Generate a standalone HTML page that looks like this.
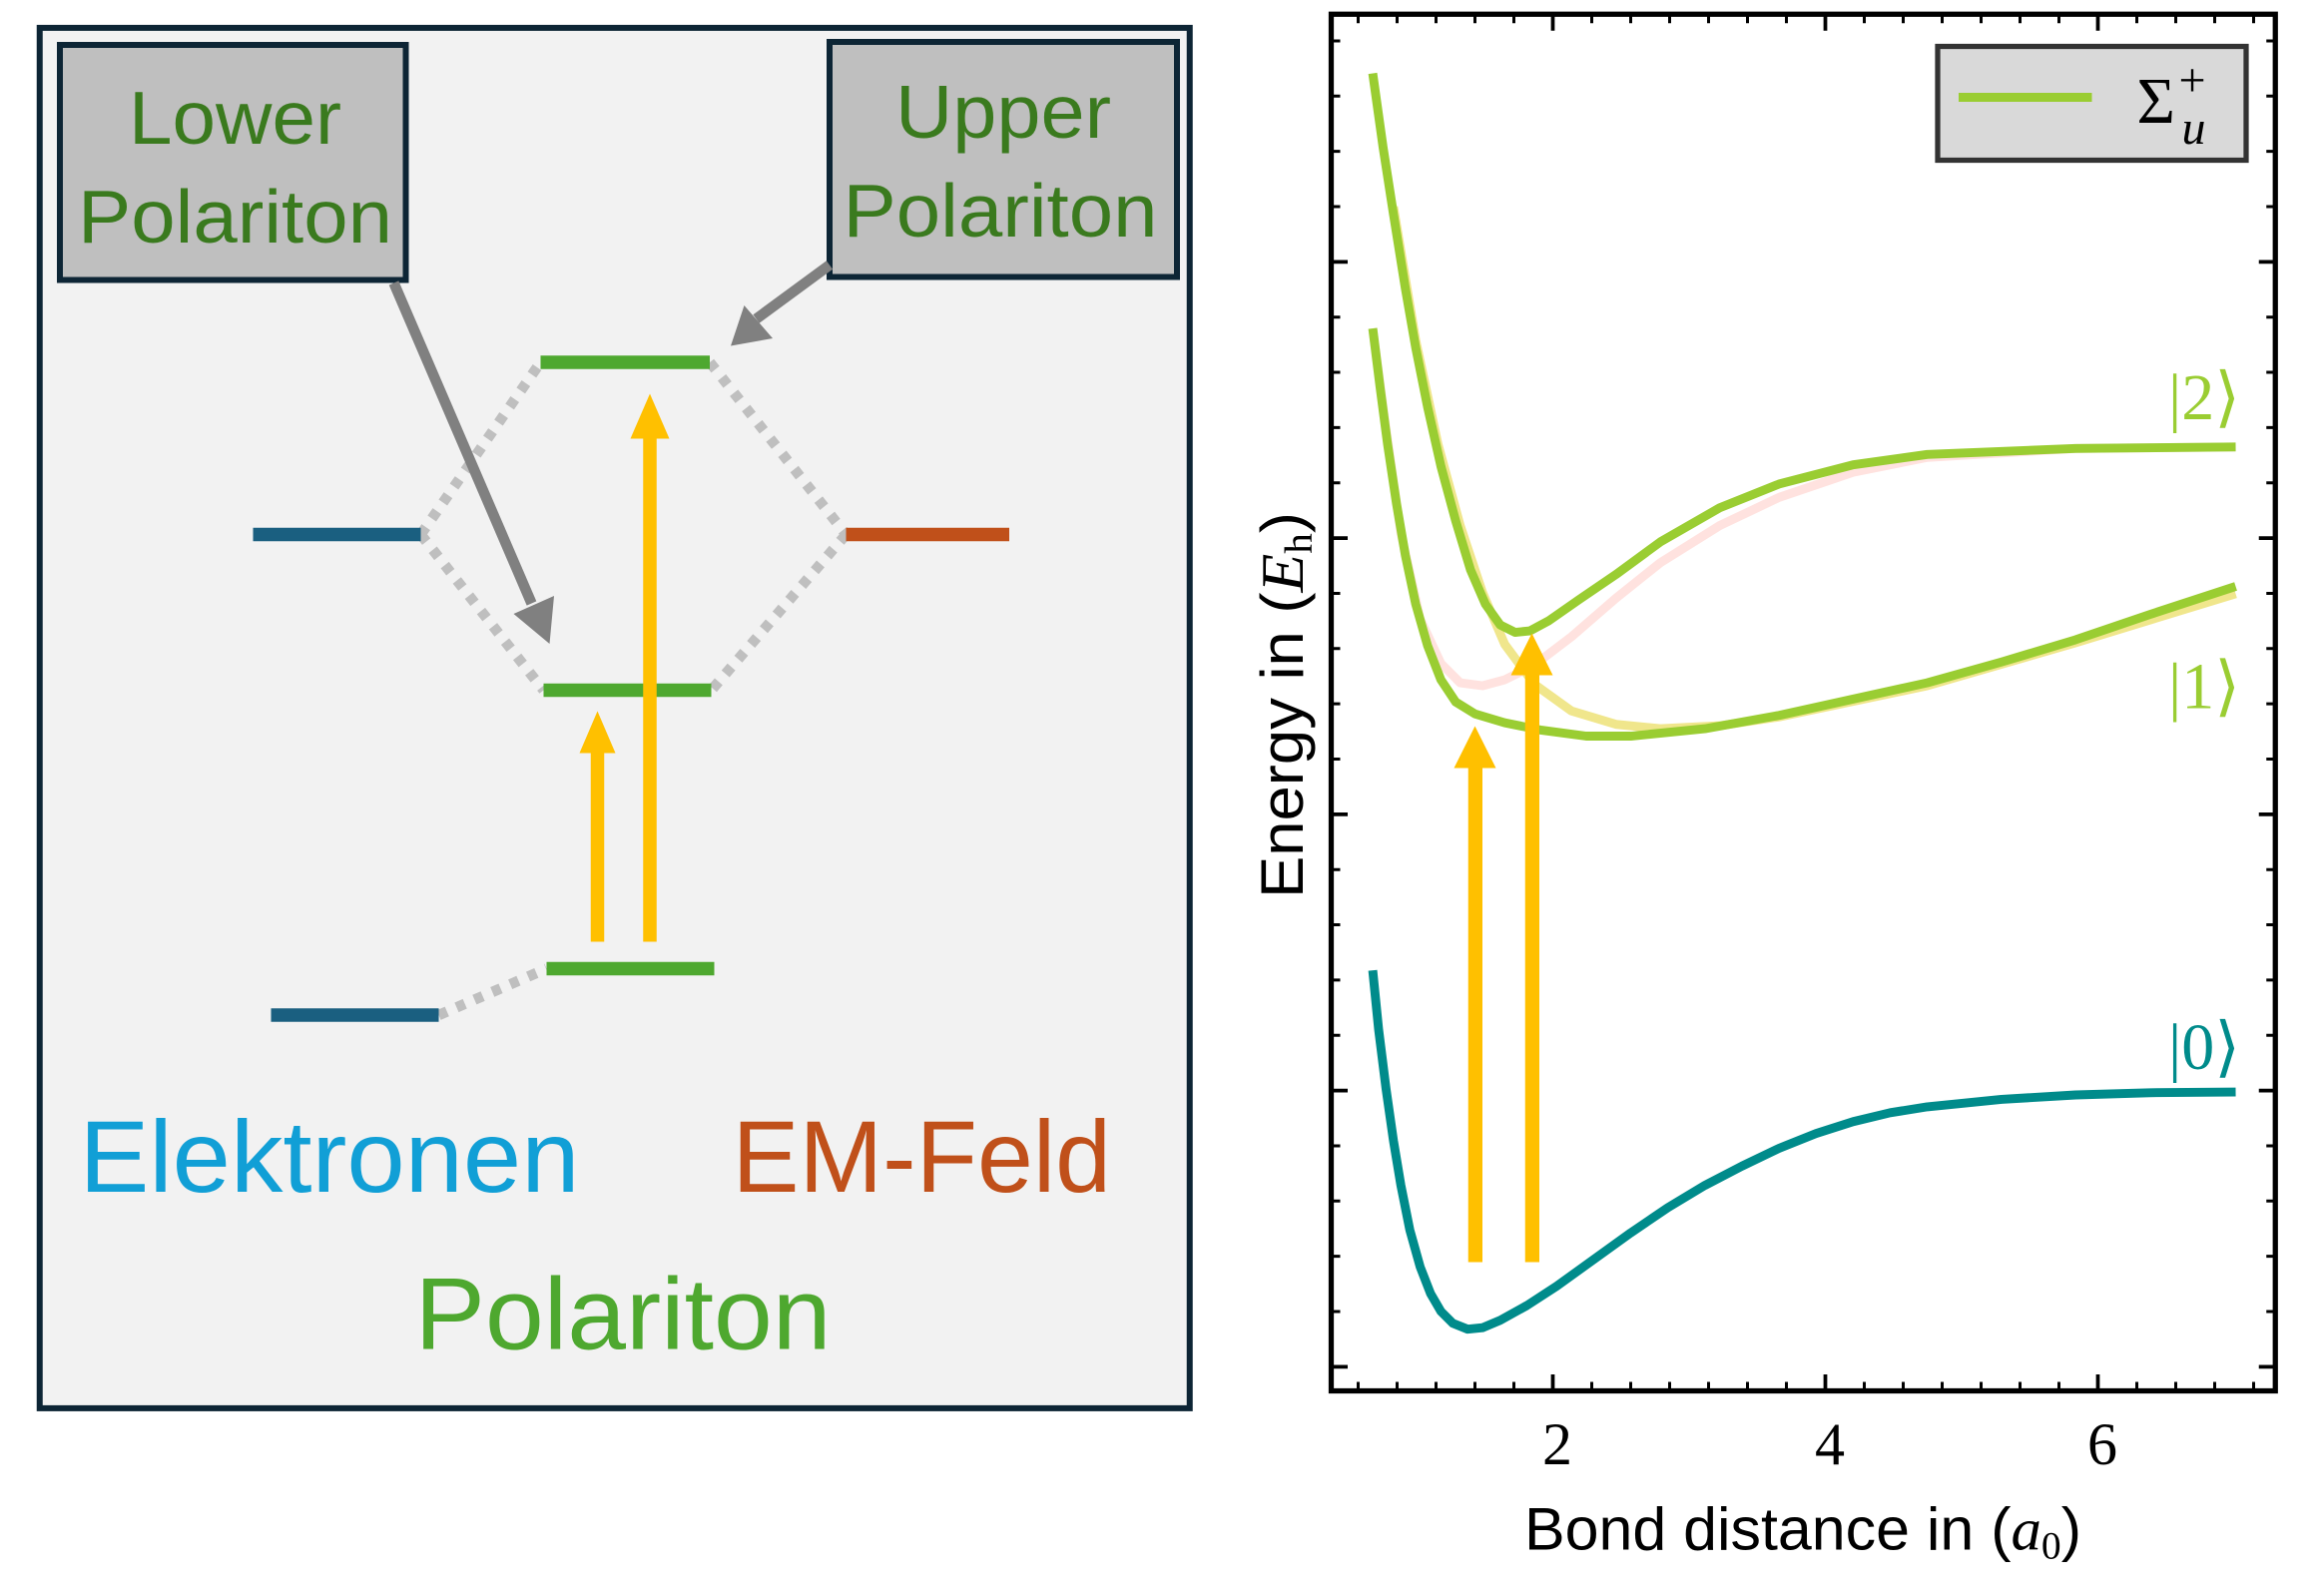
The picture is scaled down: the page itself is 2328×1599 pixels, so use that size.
<!DOCTYPE html>
<html><head><meta charset="utf-8"><style>html,body{margin:0;padding:0;background:#fff}svg{display:block}</style></head>
<body>
<svg width="2328" height="1599" viewBox="0 0 1552 1066" xmlns="http://www.w3.org/2000/svg">
<rect width="1552" height="1066" fill="#fff"/>
<!-- LEFT PANEL -->
<rect x="26.5" y="18.6" width="768" height="922" fill="#f2f2f2" stroke="#0d2535" stroke-width="4"/>
<rect x="40" y="30" width="231" height="157" fill="#bfbfbf" stroke="#0d2535" stroke-width="4"/>
<rect x="554" y="28" width="232" height="157" fill="#bfbfbf" stroke="#0d2535" stroke-width="4"/>
<g font-family="Liberation Sans, sans-serif" fill="#3a7a1e" font-size="50">
<text x="157" y="96" text-anchor="middle" textLength="142" lengthAdjust="spacingAndGlyphs">Lower</text>
<text x="52" y="162" textLength="210" lengthAdjust="spacingAndGlyphs">Polariton</text>
<text x="670" y="92" text-anchor="middle" textLength="144" lengthAdjust="spacingAndGlyphs">Upper</text>
<text x="563" y="158" textLength="210" lengthAdjust="spacingAndGlyphs">Polariton</text>
</g>
<g stroke="#bfbfbf" stroke-width="7" stroke-dasharray="6 7" fill="none">
<path d="M281 357 L361 242"/><path d="M281 357 L363 461"/>
<path d="M474 242 L565 357"/><path d="M565 357 L475 461"/>
<path d="M293 678 L365 647"/>
</g>
<g stroke-width="9">
<line x1="169" y1="357" x2="281" y2="357" stroke="#1a5f80"/>
<line x1="181" y1="678" x2="293" y2="678" stroke="#1a5f80"/>
<line x1="565" y1="357" x2="674" y2="357" stroke="#c0501a"/>
<line x1="361" y1="242" x2="474" y2="242" stroke="#4ea82f"/>
<line x1="363" y1="461" x2="475" y2="461" stroke="#4ea82f"/>
<line x1="365" y1="647" x2="477" y2="647" stroke="#4ea82f"/>
</g>
<g fill="#ffc000">
<rect x="394.5" y="490" width="9" height="139"/>
<polygon points="399,475 387,503 411,503"/>
<rect x="429.5" y="280" width="9" height="349"/>
<polygon points="434,263 421,293 447,293"/>
</g>
<g fill="#808080" stroke="#808080">
<line x1="263" y1="189" x2="355" y2="403" stroke-width="7"/>
<polygon points="367,430 343,410 370,398" stroke="none"/>
<line x1="554" y1="177" x2="505" y2="213" stroke-width="7"/>
<polygon points="488,231 497,204 516,226" stroke="none"/>
</g>
<g font-family="Liberation Sans, sans-serif" font-size="68">
<text x="53" y="796" fill="#119fd6" textLength="334" lengthAdjust="spacingAndGlyphs">Elektronen</text>
<text x="489" y="796" fill="#c0501a" textLength="253" lengthAdjust="spacingAndGlyphs">EM-Feld</text>
<text x="277" y="901" fill="#4ea82f" textLength="278" lengthAdjust="spacingAndGlyphs">Polariton</text>
</g>

<!-- RIGHT PANEL -->
<g fill="none" stroke-linejoin="round" stroke-linecap="butt" transform="matrix(0.9902 0 0 0.9903 -0.2 -0.5)">
<polyline stroke="#f0e68c" stroke-width="6" points="940,140 955,230 970,300 985,355 1000,400 1015,435 1035,462 1060,480 1090,489 1120,492 1160,490 1200,484 1300,463 1400,434 1508,401"/>
<polyline stroke="#ffe2df" stroke-width="6" points="926,222 935,290 945,360 958,418 972,448 985,461 1000,463 1015,459 1035,449 1060,430 1090,404 1120,380 1160,355 1200,336 1250,319 1300,309 1400,303 1508,302"/>
<polyline stroke="#9acd32" stroke-width="6" points="926,50 933,100 940,145 948,195 955,235 963,275 972,315 982,352 992,385 1002,408 1012,422 1022,427 1032,426 1045,419 1065,405 1090,388 1120,366 1160,343 1200,327 1250,314 1300,307 1400,303 1508,302"/>
<polyline stroke="#9acd32" stroke-width="6" points="926,222 931,262 936,300 942,340 948,375 955,408 963,436 972,459 982,474 995,482 1015,488 1040,493 1070,497 1100,497 1150,492 1200,483 1250,472 1300,461 1350,447 1400,432 1450,415 1508,396"/>
<polyline stroke="#008b8b" stroke-width="6" points="926,655 930,695 935,735 940,770 945,800 951,830 958,855 965,873 972,885 980,893 990,897 1000,896 1012,891 1030,881 1050,868 1075,850 1100,832 1125,815 1150,800 1175,787 1200,775 1225,765 1250,757 1275,751 1300,747 1350,742 1400,739 1450,737.5 1508,737"/>
</g>
<g fill="#ffc000">
<rect x="980.5" y="510" width="9.5" height="333"/>
<polygon points="985,485 971,513 999,513"/>
<rect x="1018.5" y="448" width="9.5" height="395"/>
<polygon points="1023,423 1009,451 1037,451"/>
</g>
<!-- frame -->
<rect x="889" y="9.5" width="630.5" height="919.5" fill="none" stroke="#000" stroke-width="3.5"/>
<path stroke="#000" stroke-width="2.5" fill="none" d="
M889 174.9h11 M889 359.4h11 M889 543.9h11 M889 728.4h11 M889 912.9h11
M1519.5 174.9h-11 M1519.5 359.4h-11 M1519.5 543.9h-11 M1519.5 728.4h-11 M1519.5 912.9h-11
M1037 929v-11 M1219 929v-11 M1401 929v-11
M1037 9.5v11 M1219 9.5v11 M1401 9.5v11"/>
<path stroke="#000" stroke-width="2" fill="none" d="
M889 27.3h6 M889 64.2h6 M889 101.1h6 M889 138h6 M889 211.8h6 M889 248.7h6 M889 285.6h6 M889 322.5h6 M889 396.3h6 M889 433.2h6 M889 470.1h6 M889 507h6 M889 580.8h6 M889 617.7h6 M889 654.6h6 M889 691.5h6 M889 765.3h6 M889 802.2h6 M889 839.1h6 M889 876h6
M1519.5 27.3h-6 M1519.5 64.2h-6 M1519.5 101.1h-6 M1519.5 138h-6 M1519.5 211.8h-6 M1519.5 248.7h-6 M1519.5 285.6h-6 M1519.5 322.5h-6 M1519.5 396.3h-6 M1519.5 433.2h-6 M1519.5 470.1h-6 M1519.5 507h-6 M1519.5 580.8h-6 M1519.5 617.7h-6 M1519.5 654.6h-6 M1519.5 691.5h-6 M1519.5 765.3h-6 M1519.5 802.2h-6 M1519.5 839.1h-6 M1519.5 876h-6
M907 929v-6 M933 929v-6 M959 929v-6 M985 929v-6 M1011 929v-6 M1063 929v-6 M1089 929v-6 M1115 929v-6 M1141 929v-6 M1167 929v-6 M1193 929v-6 M1245 929v-6 M1271 929v-6 M1297 929v-6 M1323 929v-6 M1349 929v-6 M1375 929v-6 M1427 929v-6 M1453 929v-6 M1479 929v-6 M1505 929v-6
M907 9.5v6 M933 9.5v6 M959 9.5v6 M985 9.5v6 M1011 9.5v6 M1063 9.5v6 M1089 9.5v6 M1115 9.5v6 M1141 9.5v6 M1167 9.5v6 M1193 9.5v6 M1245 9.5v6 M1271 9.5v6 M1297 9.5v6 M1323 9.5v6 M1349 9.5v6 M1375 9.5v6 M1427 9.5v6 M1453 9.5v6 M1479 9.5v6 M1505 9.5v6"/>
<!-- legend -->
<rect x="1294" y="31" width="206" height="76" fill="#d9d9d9" stroke="#333" stroke-width="3.5"/>
<line x1="1308" y1="65" x2="1397" y2="65" stroke="#9acd32" stroke-width="6"/>
<text x="1427" y="82" font-family="Liberation Serif, serif" font-size="44" fill="#000">Σ</text>
<text x="1455" y="64" font-family="Liberation Serif, serif" font-size="32" fill="#000">+</text>
<text x="1457" y="96" font-family="Liberation Serif, serif" font-size="32" font-style="italic" fill="#000">u</text>
<!-- state labels -->
<g font-family="Liberation Serif, serif" font-size="44">
<text x="1448" y="280" fill="#9acd32">|2⟩</text>
<text x="1448" y="473" fill="#9acd32">|1⟩</text>
<text x="1448" y="714" fill="#008b8b">|0⟩</text>
</g>
<!-- tick labels -->
<g font-family="Liberation Serif, serif" font-size="40" text-anchor="middle" fill="#000">
<text x="1040" y="978">2</text><text x="1222" y="978">4</text><text x="1404" y="978">6</text>
</g>
<text x="1018" y="1035" font-family="Liberation Sans, sans-serif" font-size="40" textLength="372" lengthAdjust="spacingAndGlyphs" fill="#000">Bond distance in (<tspan font-family="Liberation Serif, serif" font-style="italic">a</tspan><tspan font-family="Liberation Serif, serif" font-size="26" dy="6">0</tspan><tspan dy="-6">)</tspan></text>
<text transform="translate(870,600) rotate(-90)" font-family="Liberation Sans, sans-serif" font-size="40" textLength="258" lengthAdjust="spacingAndGlyphs" fill="#000">Energy in (<tspan font-family="Liberation Serif, serif" font-style="italic">E</tspan><tspan font-family="Liberation Serif, serif" font-size="26" dy="6">h</tspan><tspan dy="-6">)</tspan></text>
</svg>
</body></html>
